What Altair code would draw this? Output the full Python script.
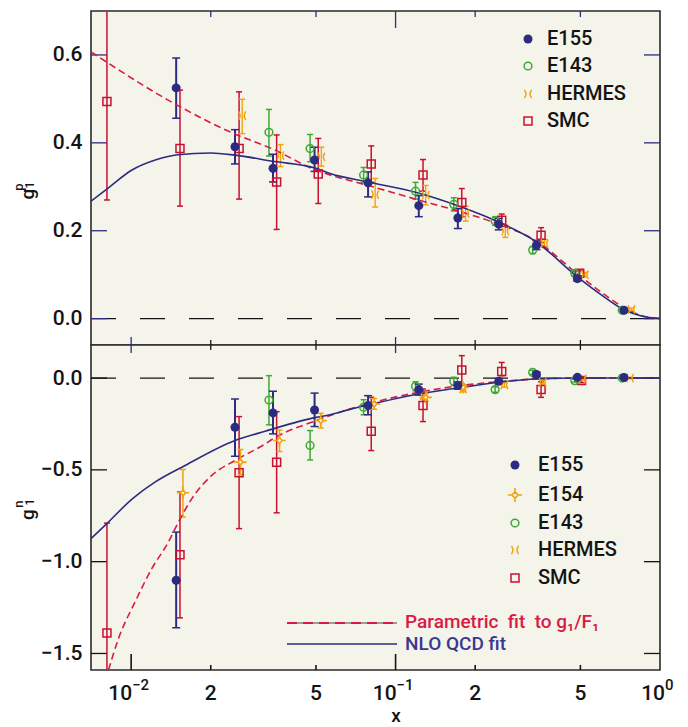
import altair as alt
import pandas as pd

# ---------------- style ----------------
NAVY = "#2d2b7f"
GREEN = "#3caa35"
ORANGE = "#f2a30f"
RED = "#c9102f"
FIT_RED = "#d81b45"
INK = "#141414"
PANEL_BG = "#f5f4eb"
FONT = "Roboto"

W = 569
H_P = 334
H_N = 325

X_DOMAIN = [0.00705, 1.0]
YP_DOMAIN = [-0.06, 0.70]
YN_DOMAIN = [-1.59, 0.18]

# ---------------- proton g1 ----------------
P_E155_X = [0.0148, 0.0247, 0.0344, 0.0494, 0.0787, 0.1224, 0.172, 0.2455, 0.341, 0.487, 0.731]
P_E155_Y = [0.525, 0.391, 0.342, 0.361, 0.309, 0.257, 0.229, 0.215, 0.167, 0.091, 0.019]
P_E155_LO = [0.456, 0.352, 0.311, 0.335, 0.277, 0.232, 0.205, 0.202, 0.157, 0.085, 0.015]
P_E155_HI = [0.593, 0.430, 0.374, 0.390, 0.334, 0.280, 0.250, 0.228, 0.177, 0.097, 0.023]

P_E143_X = [0.0332, 0.0475, 0.0757, 0.119, 0.166, 0.238, 0.330, 0.476, 0.72]
P_E143_Y = [0.424, 0.387, 0.327, 0.290, 0.260, 0.222, 0.156, 0.103, 0.019]
P_E143_LO = [0.370, 0.357, 0.310, 0.272, 0.245, 0.212, 0.148, 0.098, 0.016]
P_E143_HI = [0.476, 0.419, 0.344, 0.310, 0.275, 0.232, 0.164, 0.108, 0.022]

P_HERMES_X = [0.0263, 0.0367, 0.0524, 0.0837, 0.130, 0.184, 0.260, 0.366, 0.52, 0.78]
P_HERMES_Y = [0.462, 0.371, 0.368, 0.282, 0.281, 0.239, 0.199, 0.171, 0.100, 0.021]
P_HERMES_LO = [0.421, 0.346, 0.347, 0.254, 0.259, 0.222, 0.185, 0.162, 0.095, 0.018]
P_HERMES_HI = [0.499, 0.396, 0.390, 0.319, 0.303, 0.256, 0.213, 0.180, 0.105, 0.024]

P_SMC_X = [0.0081, 0.0153, 0.0256, 0.0355, 0.0510, 0.0809, 0.127, 0.178, 0.252, 0.355, 0.497]
P_SMC_Y = [0.494, 0.387, 0.387, 0.311, 0.329, 0.352, 0.327, 0.264, 0.224, 0.190, 0.103]
P_SMC_LO = [0.270, 0.256, 0.272, 0.203, 0.262, 0.310, 0.290, 0.232, 0.210, 0.173, 0.097]
P_SMC_HI = [0.760, 0.520, 0.516, 0.418, 0.410, 0.393, 0.362, 0.296, 0.238, 0.207, 0.109]

P_NLO_X = [0.00705, 0.0083, 0.01, 0.0125, 0.015, 0.02, 0.0247, 0.0344, 0.05, 0.0565,
           0.0787, 0.122, 0.172, 0.245, 0.34, 0.487, 0.6, 0.731, 0.85, 1.0]
P_NLO_Y = [0.267, 0.300, 0.337, 0.362, 0.373, 0.377, 0.372, 0.358, 0.342, 0.330,
           0.311, 0.286, 0.257, 0.220, 0.175, 0.095, 0.054, 0.020, 0.006, 0.0]

P_PAR_X = [0.00705, 0.0148, 0.0247, 0.034, 0.05, 0.0565, 0.0787, 0.122, 0.172, 0.245,
           0.34, 0.487, 0.6, 0.731, 0.85, 1.0]
P_PAR_Y = [0.607, 0.487, 0.420, 0.387, 0.338, 0.327, 0.303, 0.270, 0.245, 0.215,
           0.177, 0.102, 0.060, 0.025, 0.007, 0.0]

# ---------------- neutron g1 ----------------
N_E155_X = [0.0148, 0.0247, 0.0344, 0.0494, 0.0787, 0.1224, 0.172, 0.2455, 0.341, 0.487, 0.731]
N_E155_Y = [-1.101, -0.268, -0.190, -0.174, -0.150, -0.063, -0.041, -0.018, 0.020, 0.004, 0.003]
N_E155_LO = [-1.360, -0.426, -0.304, -0.264, -0.200, -0.093, -0.061, -0.033, 0.008, -0.004, -0.002]
N_E155_HI = [-0.839, -0.114, -0.072, -0.082, -0.096, -0.033, -0.021, -0.003, 0.032, 0.012, 0.008]

N_E154_X = [0.0157, 0.0259, 0.0364, 0.0521, 0.083, 0.130, 0.180]
N_E154_Y = [-0.625, -0.458, -0.340, -0.232, -0.141, -0.105, -0.051]
N_E154_LO = [-0.757, -0.527, -0.400, -0.272, -0.170, -0.125, -0.066]
N_E154_HI = [-0.498, -0.389, -0.283, -0.192, -0.112, -0.085, -0.036]

N_E143_X = [0.0332, 0.0475, 0.0757, 0.119, 0.166, 0.238, 0.330, 0.476, 0.72]
N_E143_Y = [-0.120, -0.367, -0.159, -0.045, -0.018, -0.063, 0.031, -0.014, 0.0]
N_E143_LO = [-0.255, -0.446, -0.200, -0.070, -0.040, -0.078, 0.020, -0.022, -0.005]
N_E143_HI = [0.013, -0.286, -0.118, -0.020, 0.004, -0.048, 0.042, -0.006, 0.005]

N_HERMES_X = [0.128, 0.180, 0.258, 0.360, 0.51, 0.77]
N_HERMES_Y = [-0.096, -0.060, -0.038, -0.023, -0.005, 0.0]
N_HERMES_LO = [-0.115, -0.075, -0.050, -0.033, -0.012, -0.004]
N_HERMES_HI = [-0.077, -0.045, -0.026, -0.013, 0.002, 0.004]

N_SMC_X = [0.0081, 0.0153, 0.0256, 0.0355, 0.0809, 0.127, 0.178, 0.252, 0.355, 0.505]
N_SMC_Y = [-1.388, -0.962, -0.516, -0.458, -0.290, -0.150, 0.044, 0.036, -0.063, -0.014]
N_SMC_LO = [-1.700, -1.306, -0.820, -0.734, -0.395, -0.237, -0.033, 0.013, -0.105, -0.025]
N_SMC_HI = [-0.790, -0.621, -0.210, -0.183, -0.105, -0.060, 0.122, 0.085, -0.020, -0.003]

N_NLO_X = [0.00705, 0.0080, 0.0101, 0.0123, 0.0160, 0.0247, 0.0321, 0.05, 0.0565, 0.0667,
           0.0787, 0.122, 0.172, 0.245, 0.34, 0.5, 0.75, 1.0]
N_NLO_Y = [-0.875, -0.800, -0.658, -0.567, -0.476, -0.340, -0.290, -0.214, -0.200, -0.172,
           -0.147, -0.087, -0.054, -0.023, -0.005, 0.0, 0.0, 0.0]

N_PAR_X = [0.00821, 0.00896, 0.01035, 0.01197, 0.01383, 0.01509, 0.01695, 0.02018, 0.0247,
           0.0321, 0.0344, 0.05, 0.0787, 0.122, 0.172, 0.245, 0.34, 0.5, 0.75, 1.0]
N_PAR_Y = [-1.59, -1.418, -1.219, -1.038, -0.893, -0.785, -0.658, -0.530, -0.449,
           -0.359, -0.331, -0.232, -0.140, -0.078, -0.043, -0.020, -0.005, 0.0, 0.0, 0.0]

# ---------------- axis decorations ----------------
X_MAJOR = [0.01, 0.1]
X_MINOR = [0.02, 0.05, 0.2, 0.5]
X_MINOR_LABELS = ["2", "5", "2", "5"]
X_DECADES = [0.01, 0.1, 1.0]
X_DECADE_EXP = ["\u22122", "\u22121", "0"]
YP_TICKS = [0.0, 0.2, 0.4, 0.6]
YN_TICKS = [0.0, -0.5, -1.0, -1.5]
ZERO = [0.0]

LEGEND_P = ["E155", "E143", "HERMES", "SMC"]
LEGEND_N = ["E155", "E154", "E143", "HERMES", "SMC"]

# custom symbols
HERMES_SHAPE = "M-0.85,-1 Q-0.15,0 -0.85,1 M0.85,-1 Q0.15,0 0.85,1"
E154_SHAPE = ("M0,-1 L0,-0.45 M0,0.45 L0,1 M-1,0 L-0.45,0 M0.45,0 L1,0 "
              "M0,-0.45 L0.45,0 L0,0.45 L-0.45,0 Z")

xs = alt.Scale(type="log", domain=X_DOMAIN, nice=False)


def X(field):
    return alt.X(field, type="quantitative", scale=xs, axis=None)


def make_y(domain, values):
    scale = alt.Scale(domain=domain, nice=False, zero=False)
    axis = alt.Axis(values=values, format=".1f", ticks=False, domain=False, grid=False,
                    labelPadding=9, labelFontSize=21, labelFont=FONT, labelColor=INK,
                    labelFontWeight=500, title=None)

    def Y(field):
        return alt.Y(field, type="quantitative", scale=scale, axis=axis)
    return Y


STYLE = {
    "E155": dict(color=NAVY, shape="circle", filled=True, size=81, cap=8, bw=2.0),
    "E154": dict(color=ORANGE, shape=E154_SHAPE, filled=True, size=150, cap=6, bw=1.5),
    "E143": dict(color=GREEN, shape="circle", filled=False, size=60, cap=6, bw=1.5),
    "HERMES": dict(color=ORANGE, shape=HERMES_SHAPE, filled=False, size=70, cap=6, bw=1.4),
    "SMC": dict(color=RED, shape="square", filled=False, size=64, cap=6, bw=1.5),
}


def point_mark(name, size=None):
    s = STYLE[name]
    sz = size or s["size"]
    if name == "E154":
        return dict(shape=s["shape"], filled=True, fill=PANEL_BG, stroke=s["color"],
                    strokeWidth=1.6, size=sz, opacity=1)
    if s["filled"]:
        return dict(shape=s["shape"], filled=True, color=s["color"], size=sz,
                    opacity=1, strokeWidth=0)
    return dict(shape=s["shape"], filled=False, color=s["color"], size=sz,
                opacity=1, strokeWidth=1.5)


def series(name, xv, yv, lo, hi, Y):
    s = STYLE[name]
    df = pd.DataFrame({"x": xv, "y": yv, "lo": lo, "hi": hi})
    bars = alt.Chart(df).mark_rule(color=s["color"], strokeWidth=s["bw"], clip=True).encode(
        x=X("x"), y=Y("lo"), y2=alt.Y2("hi"))
    cap_lo = alt.Chart(df).mark_tick(orient="horizontal", color=s["color"], size=s["cap"],
                                     thickness=1.5, clip=True, opacity=1).encode(x=X("x"), y=Y("lo"))
    cap_hi = alt.Chart(df).mark_tick(orient="horizontal", color=s["color"], size=s["cap"],
                                     thickness=1.5, clip=True, opacity=1).encode(x=X("x"), y=Y("hi"))
    pts = alt.Chart(df).mark_point(**point_mark(name)).encode(x=X("x"), y=Y("y"))
    return [bars, cap_lo, cap_hi], pts


def curve(xv, yv, Y, color, dash=None):
    df = pd.DataFrame({"x": xv, "y": yv})
    kw = dict(color=color, strokeWidth=1.6, interpolate="monotone", clip=True)
    if dash:
        kw["strokeDash"] = dash
    return alt.Chart(df).mark_line(**kw).encode(x=X("x"), y=Y("y"))


def xticks(values, y0, y1, color, width=1.3):
    df = pd.DataFrame({"v": values})
    return alt.Chart(df).mark_rule(color=color, strokeWidth=width).encode(
        x=X("v"), y=alt.value(y0), y2=alt.value(y1))


def yticks(values, Y, x0, x1, color):
    df = pd.DataFrame({"v": values})
    return alt.Chart(df).mark_rule(color=color, strokeWidth=1.3).encode(
        y=Y("v"), x=alt.value(x0), x2=alt.value(x1))


def zero_line(Y):
    df = pd.DataFrame({"v": ZERO})
    return alt.Chart(df).mark_rule(color=INK, strokeWidth=1.3, strokeDash=[25, 24]).encode(
        y=Y("v"), x=alt.value(0), x2=alt.value(W))


def label(text, x, y, size=20, color=INK, align="left", baseline="middle", angle=0, weight=500):
    df = pd.DataFrame({"t": [text]})
    kw = dict(font=FONT, fontSize=size, color=color, align=align, baseline=baseline,
              fontWeight=weight)
    if angle:
        kw["angle"] = angle
    return alt.Chart(df).mark_text(**kw).encode(
        text=alt.Text("t:N"), x=alt.value(x), y=alt.value(y))


def legend_symbol(name, x, y, size=None):
    df = pd.DataFrame({"t": [name]})
    return alt.Chart(df).mark_point(**point_mark(name, size)).encode(x=alt.value(x), y=alt.value(y))


def ytitle(sup, y_g, y_sup):
    return [
        label("g", -62.7, y_g, size=19, angle=270, align="center"),
        label(sup, -72.5, y_sup, size=13, angle=270, align="center"),
        label("1", -61.5, y_sup - 2, size=12, angle=270, align="center"),
    ]


# ---------------- proton panel ----------------
YP = make_y(YP_DOMAIN, YP_TICKS)
p_bars, p_pts = [], []
for name, xv, yv, lo, hi in [
    ("SMC", P_SMC_X, P_SMC_Y, P_SMC_LO, P_SMC_HI),
    ("HERMES", P_HERMES_X, P_HERMES_Y, P_HERMES_LO, P_HERMES_HI),
    ("E143", P_E143_X, P_E143_Y, P_E143_LO, P_E143_HI),
    ("E155", P_E155_X, P_E155_Y, P_E155_LO, P_E155_HI),
]:
    b, p = series(name, xv, yv, lo, hi, YP)
    p_bars += b
    p_pts.append(p)

p_layers = [zero_line(YP)]
p_layers += [
    xticks([0.1], 0, 17, NAVY), xticks(X_MINOR, 0, 6, NAVY),
    yticks(YP_TICKS, YP, 0, 16, NAVY), yticks(YP_TICKS, YP, W - 16, W, NAVY),
]
p_layers += p_bars
p_layers += [curve(P_PAR_X, P_PAR_Y, YP, FIT_RED, [7, 4]), curve(P_NLO_X, P_NLO_Y, YP, NAVY)]
p_layers += p_pts
leg_y = [28, 55, 83, 110]
for name, ly in zip(LEGEND_P, leg_y):
    p_layers.append(legend_symbol(name, 437, ly))
    p_layers.append(label(name, 456, ly, size=20))
p_layers += ytitle("p", 183, 176)

proton = alt.layer(*p_layers).properties(width=W, height=H_P)

# ---------------- neutron panel ----------------
YN = make_y(YN_DOMAIN, YN_TICKS)
n_bars, n_pts = [], []
for name, xv, yv, lo, hi in [
    ("SMC", N_SMC_X, N_SMC_Y, N_SMC_LO, N_SMC_HI),
    ("HERMES", N_HERMES_X, N_HERMES_Y, N_HERMES_LO, N_HERMES_HI),
    ("E143", N_E143_X, N_E143_Y, N_E143_LO, N_E143_HI),
    ("E154", N_E154_X, N_E154_Y, N_E154_LO, N_E154_HI),
    ("E155", N_E155_X, N_E155_Y, N_E155_LO, N_E155_HI),
]:
    b, p = series(name, xv, yv, lo, hi, YN)
    n_bars += b
    n_pts.append(p)

n_layers = [zero_line(YN)]
n_layers += [
    # ticks on the shared border and on the bottom edge
    xticks(X_MAJOR, -8, 8, NAVY), xticks(X_MINOR, -5, 5, INK),
    xticks(X_MAJOR, H_N, H_N - 16, INK, 1.6), xticks(X_MINOR, H_N, H_N - 5, INK, 1.6),
    yticks(YN_TICKS, YN, 0, 16, INK), yticks(YN_TICKS, YN, W - 16, W, INK),
]
n_layers += n_bars
n_layers += [curve(N_PAR_X, N_PAR_Y, YN, FIT_RED, [7, 4]), curve(N_NLO_X, N_NLO_Y, YN, NAVY)]
n_layers += n_pts
leg_y = [120, 150, 178, 205, 233]
for name, ly in zip(LEGEND_N, leg_y):
    n_layers.append(legend_symbol(name, 424, ly, 200 if name == "E154" else None))
    n_layers.append(label(name, 447, ly, size=20))

# line legend
line_key = pd.DataFrame({"k": ["fit"]})
n_layers += [
    alt.Chart(line_key).mark_rule(color="#444444", strokeWidth=1.2).encode(
        x=alt.value(196), x2=alt.value(306), y=alt.value(278)),
    alt.Chart(line_key).mark_rule(color=FIT_RED, strokeWidth=2, strokeDash=[10, 6]).encode(
        x=alt.value(196), x2=alt.value(306), y=alt.value(278)),
    alt.Chart(line_key).mark_rule(color=NAVY, strokeWidth=1.4).encode(
        x=alt.value(196), x2=alt.value(306), y=alt.value(299)),
    label("Parametric\u00a0\u00a0fit\u00a0\u00a0to g\u2081/F\u2081", 314, 277, size=19, color=FIT_RED),
    label("NLO QCD fit", 314, 299, size=19, color="#3a3790"),
]

# x tick labels
minor_df = pd.DataFrame({"v": X_MINOR, "t": X_MINOR_LABELS})
n_layers.append(alt.Chart(minor_df).mark_text(
    font=FONT, fontSize=21, fontWeight=500, color=INK, baseline="alphabetic", align="center").encode(
    x=X("v"), y=alt.value(355), text=alt.Text("t:N")))
for v, e in zip(X_DECADES, X_DECADE_EXP):
    shift = 1 if len(e) > 1 else 5
    d = pd.DataFrame({"v": [v], "b": ["10"], "e": [e]})
    n_layers.append(alt.Chart(d).mark_text(
        font=FONT, fontSize=21, fontWeight=500, color=INK, baseline="alphabetic", align="right",
        dx=shift).encode(x=X("v"), y=alt.value(355), text=alt.Text("b:N")))
    n_layers.append(alt.Chart(d).mark_text(
        font=FONT, fontSize=15, fontWeight=500, color=INK, baseline="alphabetic", align="left",
        dx=shift).encode(x=X("v"), y=alt.value(345), text=alt.Text("e:N")))
n_layers.append(label("x", 305, 377, size=19, align="center", baseline="alphabetic"))
n_layers += ytitle("n", 169.5, 159)

neutron = alt.layer(*n_layers).properties(width=W, height=H_N)

chart = alt.vconcat(proton, neutron, spacing=0, bounds="flush").properties(
    padding={"left": 11, "top": 9, "right": 5, "bottom": 4},
    background="white",
).configure_view(
    fill=PANEL_BG, stroke="#2a2a2a", strokeWidth=1.6
).configure_concat(spacing=0)

chart.save("out.html", embed_options={"renderer": "svg", "actions": False})
